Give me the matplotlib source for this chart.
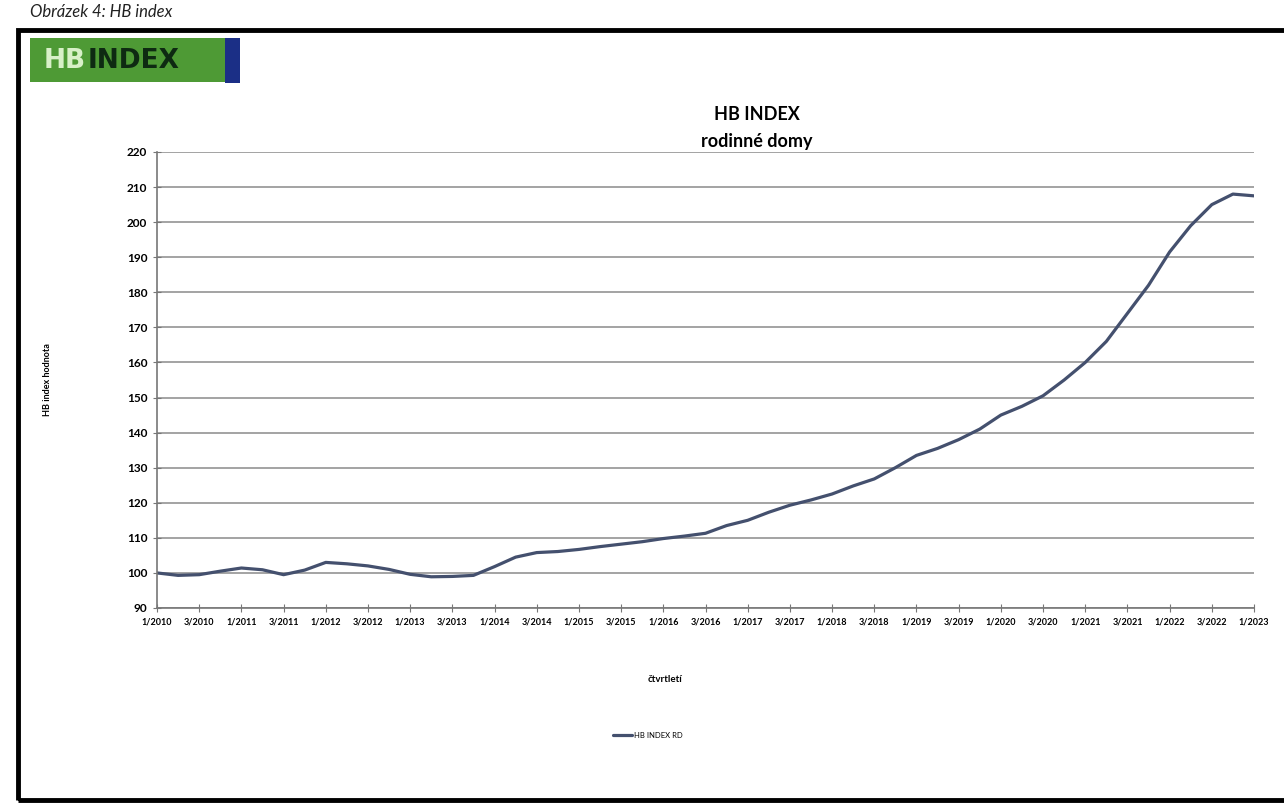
import matplotlib.pyplot as plt
from matplotlib.patches import Rectangle
import numpy as np

# quarterly values of HB INDEX RD, Q1/2010 .. Q1/2023
hb_index_rd = [
    100.0, 99.3, 99.5, 100.5,
    101.4, 100.9, 99.5, 100.8,
    103.0, 102.6, 102.0, 101.0,
    99.6, 98.9, 99.0, 99.3,
    101.8, 104.5, 105.8, 106.1,
    106.7, 107.5, 108.2, 108.9,
    109.8, 110.5, 111.3, 113.5,
    115.0, 117.3, 119.3, 120.8,
    122.5, 124.8, 126.8, 130.0,
    133.5, 135.5, 138.0, 141.0,
    145.0, 147.5, 150.5, 155.0,
    160.0, 166.0, 174.0, 182.0,
    191.5, 199.0, 205.0, 208.0,
    207.5,
]
years = list(range(2010, 2024))
tick_labels = []
for y in years:
    tick_labels.append('1/%d' % y)
    if y < 2023:
        tick_labels.append('3/%d' % y)
y_ticks = list(range(90, 230, 10))

plt.rcParams['font.family'] = ['Lato', 'DejaVu Sans']

fig = plt.figure(figsize=(12.84, 8.08), dpi=100)
W, H = 1284, 808

def fx(px):
    return px / W

def fy(py):
    return 1 - py / H

# caption above the frame
fig.text(fx(30), fy(12), 'Obrázek 4: HB index', fontsize=12, style='italic',
         ha='left', va='center', color='#222222')

# frame
fig.patches.append(Rectangle((fx(18), fy(800)), fx(1300), fy(30) - fy(800),
                             transform=fig.transFigure, fill=False,
                             edgecolor='black', linewidth=3.5))

# logo
fig.patches.append(Rectangle((fx(30), fy(82)), fx(196), fy(38) - fy(82),
                             transform=fig.transFigure, facecolor='#4e9a35',
                             edgecolor='none'))
fig.patches.append(Rectangle((fx(225), fy(83)), fx(15), fy(38) - fy(83),
                             transform=fig.transFigure, facecolor='#1b2f86',
                             edgecolor='none'))
hb = fig.text(fx(44), fy(61), 'HB', fontsize=19, fontweight='bold',
              color='#d8f0c8', ha='left', va='center', family='DejaVu Sans')
fig.add_artist(plt.Annotation('INDEX', xy=(1, 0), xycoords=hb,
                              xytext=(1, 0), textcoords='offset points',
                              fontsize=19, fontweight='bold',
                              color='#0e2a12', family='DejaVu Sans',
                              ha='left', va='bottom'))

# title
fig.text(fx(757), fy(114), 'HB INDEX', fontsize=13, fontweight='bold',
         ha='center', va='center')
fig.text(fx(757), fy(141), 'rodinné domy', fontsize=13, fontweight='bold',
         ha='center', va='center')

ax = fig.add_axes([fx(157), fy(608), fx(1254) - fx(157), fy(152) - fy(608)])
x = np.arange(len(hb_index_rd))
line, = ax.plot(x, hb_index_rd, color='#44506e', linewidth=2.3,
                solid_capstyle='round', solid_joinstyle='round',
                label='HB INDEX RD')

ax.set_xlim(0, len(hb_index_rd) - 1)
ax.set_ylim(90, 220)
ax.set_yticks(y_ticks)
ax.set_yticklabels([str(v) for v in y_ticks], fontsize=8.5, fontweight='bold')
ax.set_xticks(np.arange(0, len(hb_index_rd), 2))
ax.set_xticklabels(tick_labels, fontsize=6.5, fontweight='bold')
ax.tick_params(axis='both', direction='inout', length=6, color='#777777',
               pad=4)
ax.yaxis.grid(True, color='#8a8a8a', linewidth=1.1)
ax.set_axisbelow(True)
for side in ['top', 'right']:
    ax.spines[side].set_visible(False)
for side in ['left', 'bottom']:
    ax.spines[side].set_color('#777777')
    ax.spines[side].set_linewidth(1.2)

fig.text(fx(48), fy(380), 'HB index hodnota', fontsize=6.5, fontweight='bold',
         rotation=90, ha='center', va='center')
fig.text(fx(665), fy(680), 'čtvrtletí', fontsize=7, fontweight='bold',
         ha='center', va='center')

fig.legend(handles=[line], loc='center', bbox_to_anchor=(fx(648), fy(735)),
           frameon=False, fontsize=5.5, handlelength=2.5, handletextpad=0.3)

fig.savefig('out.png', dpi=100)
